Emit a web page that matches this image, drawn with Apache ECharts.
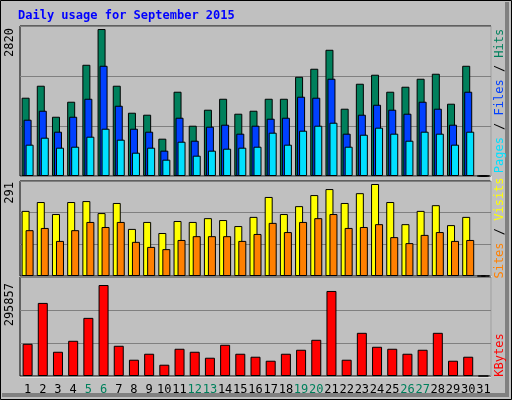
<!DOCTYPE html>
<html>
<head>
<meta charset="utf-8">
<script src="https://cdn.jsdelivr.net/npm/echarts@6/dist/echarts.min.js"></script>
<style>
  html, body { margin: 0; padding: 0; background: #c0c0c0; }
  #chart { width: 512px; height: 400px; }
</style>
</head>
<body>
<div id="chart"></div>
<script>
const days = Array.from({ length: 31 }, (_, i) => String(i + 1))
const weekend = ['5', '6', '12', '13', '19', '20', '26', '27']

const hits = [1502, 1732, 1137, 1425, 2134, 2820, 1732, 1214, 1176, 716, 1617, 965, 1272, 1482, 1195, 1252,
  1482, 1482, 1904, 2058, 2422, 1291, 1770, 1943, 1617, 1713, 1866, 1962, 1387, 2115, 0]
const files = [1080, 1252, 850, 1137, 1482, 2115, 1348, 907, 850, 486, 1118, 677, 946, 984, 812, 965,
  1099, 1118, 1521, 1502, 1866, 812, 1176, 1367, 1272, 1195, 1425, 1291, 984, 1617, 0]
const pages = [601, 735, 543, 562, 754, 907, 697, 447, 543, 313, 658, 390, 486, 524, 543, 562,
  831, 601, 869, 965, 1022, 562, 792, 927, 812, 677, 850, 812, 601, 850, 0]
const visits = [206, 234, 196, 234, 237, 199, 231, 149, 171, 136, 174, 171, 183, 177, 158, 187,
  250, 196, 221, 256, 275, 231, 262, 291, 234, 164, 206, 224, 161, 187, 0]
const sites = [145, 152, 111, 145, 171, 155, 171, 108, 92, 85, 114, 126, 126, 126, 111, 133,
  168, 139, 171, 183, 196, 152, 155, 164, 123, 104, 130, 139, 111, 114, 0]
const kbytes = [104760, 237600, 78840, 114480, 189000, 295857, 98280, 52920, 72360, 36720, 88560, 78840, 59400, 101520, 72360, 62640,
  49680, 72360, 85320, 117720, 276480, 52920, 140400, 95040, 88560, 72360, 85320, 140400, 49680, 62640, 0]

const mono = '"DejaVu Sans Mono", monospace'
const chart = echarts.init(document.getElementById('chart'))

const grids = [
  { left: 20, right: 21, top: 26, height: 150 },
  { left: 20, right: 21, top: 181, height: 95 },
  { left: 20, right: 21, top: 277, height: 99 }
].map(g => ({ ...g, show: true, borderColor: '#000', borderWidth: 1, backgroundColor: 'transparent' }))

const maxes = [2878, 300.5, 321870]

const xAxes = grids.map((g, i) => ({
  type: 'category', gridIndex: i, data: days,
  axisTick: { show: false }, axisLine: { show: false },
  axisLabel: i === 2 ? {
    interval: 0, margin: 8, fontFamily: mono, fontSize: 12,
    color: v => weekend.includes(v) ? '#00805c' : '#000'
  } : { show: false }
}))
const yAxes = maxes.map((m, i) => ({
  type: 'value', gridIndex: i, min: 0, max: m, interval: m / 3,
  axisLabel: { show: false }, axisLine: { show: false }, axisTick: { show: false },
  splitLine: { lineStyle: { color: '#808080', width: 1 } }
}))

const bar = (data, color, idx, extra) => ({
  type: 'bar', data, xAxisIndex: idx, yAxisIndex: idx, barWidth: 8,
  itemStyle: { color, borderColor: '#000', borderWidth: 1 }, animation: false, ...extra
})

chart.setOption({
  backgroundColor: '#c0c0c0',
  grid: grids,
  xAxis: xAxes,
  yAxis: yAxes,
  series: [
    bar(hits, '#00805c', 0, { barGap: '-75%' }),
    bar(files, '#0040ff', 0, { barGap: '-75%' }),
    bar(pages, '#00e0ff', 0, { barGap: '-75%' }),
    bar(visits, '#ffff00', 1, { barGap: '-50%' }),
    bar(sites, '#ff8000', 1, { barGap: '-50%' }),
    bar(kbytes, '#ff0000', 2, { barWidth: 10 })
  ],
  graphic: [
    { type: 'rect', shape: { x: 0.5, y: 0.5, width: 511, height: 399 }, style: { fill: 'none', stroke: '#000', lineWidth: 1 }, silent: true },
    { type: 'polyline', shape: { points: [[507, 2], [507, 395], [2, 395]] }, style: { stroke: '#808080', lineWidth: 4, fill: 'none' } },
    { type: 'line', shape: { x1: 491, y1: 26, x2: 491, y2: 376 }, style: { stroke: '#fff', lineWidth: 1 } },
    { type: 'line', shape: { x1: 20, y1: 377, x2: 491, y2: 377 }, style: { stroke: '#fff', lineWidth: 1 } },
    { type: 'text', x: 18, y: 16, style: { text: 'Daily usage for September 2015', fill: '#0000ff', font: 'bold 12px ' + mono, textVerticalAlign: 'middle' } },
    { type: 'text', x: 10, y: 28, rotation: Math.PI / 2, style: { text: '2820', fill: '#000', font: '12px ' + mono, textAlign: 'right', textVerticalAlign: 'middle' } },
    { type: 'text', x: 10, y: 182, rotation: Math.PI / 2, style: { text: '291', fill: '#000', font: '12px ' + mono, textAlign: 'right', textVerticalAlign: 'middle' } },
    { type: 'text', x: 10, y: 283, rotation: Math.PI / 2, style: { text: '295857', fill: '#000', font: '12px ' + mono, textAlign: 'right', textVerticalAlign: 'middle' } },
    {
      type: 'text', x: 500, y: 101, rotation: Math.PI / 2,
      style: {
        text: '{p|Pages} {s|/} {f|Files} {s|/} {h|Hits}', textAlign: 'center', textVerticalAlign: 'middle',
        font: '12px ' + mono,
        rich: { p: { fill: '#00e0ff', font: '12px ' + mono }, f: { fill: '#0040ff', font: '12px ' + mono }, h: { fill: '#00805c', font: '12px ' + mono }, s: { fill: '#000', font: '12px ' + mono } }
      }
    },
    {
      type: 'text', x: 500, y: 228, rotation: Math.PI / 2,
      style: {
        text: '{s|Sites} {k|/} {v|Visits}', textAlign: 'center', textVerticalAlign: 'middle',
        font: '12px ' + mono,
        rich: { s: { fill: '#ff8000', font: '12px ' + mono }, v: { fill: '#ffff00', font: '12px ' + mono }, k: { fill: '#000', font: '12px ' + mono } }
      }
    },
    { type: 'text', x: 500, y: 355, rotation: Math.PI / 2, style: { text: 'KBytes', fill: '#ff0000', font: '12px ' + mono, textAlign: 'center', textVerticalAlign: 'middle' } }
  ]
})
</script>
</body>
</html>
